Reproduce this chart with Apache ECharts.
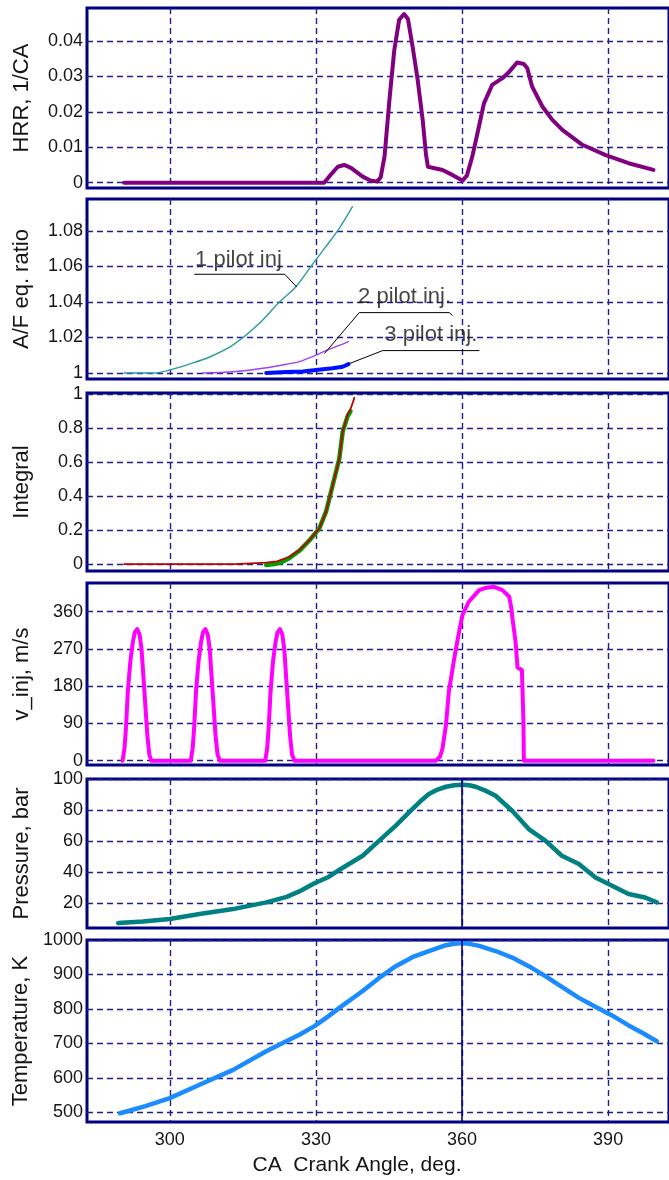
<!DOCTYPE html>
<html>
<head>
<meta charset="utf-8">
<script src="https://cdn.jsdelivr.net/npm/echarts@6/dist/echarts.min.js"></script>
<style>
html,body{margin:0;padding:0;background:#fff;}
#c{width:669px;height:1180px;}
</style>
</head>
<body>
<div id="c"></div>
<script>
// ---------- data ----------
const xTicks = [300, 330, 360, 390];
const xTitle = 'CA  Crank Angle, deg.';

const hrrTicks = [0, 0.01, 0.02, 0.03, 0.04];
const afTicks = [1, 1.02, 1.04, 1.06, 1.08];
const intTicks = [0, 0.2, 0.4, 0.6, 0.8, 1];
const vinjTicks = [0, 90, 180, 270, 360];
const presTicks = [20, 40, 60, 80, 100];
const tempTicks = [500, 600, 700, 800, 900, 1000];

const panelTitles = ['HRR, 1/CA', 'A/F eq. ratio', 'Integral', 'v_inj, m/s', 'Pressure, bar', 'Temperature, K'];

const hrr = [[290.6,0],[331.7,0],[333.2,0.0025],[334.5,0.0045],[335.8,0.005],[337.2,0.0042],[339.6,0.0017],[341.2,0.0006],[342.6,0.0003],[343.3,0.0015],[344.1,0.0075],[345.1,0.0234],[346.1,0.0375],[347.1,0.046],[348.1,0.0476],[348.9,0.0462],[349.9,0.038],[350.9,0.029],[351.9,0.018],[352.6,0.008],[353.0,0.0045],[356.0,0.0036],[358.0,0.0022],[360.1,0.0006],[361.0,0.002],[362.1,0.0073],[363.5,0.016],[364.5,0.0224],[366.2,0.0276],[368.3,0.0295],[369.5,0.031],[371.3,0.0339],[372.7,0.0335],[373.4,0.0323],[374.4,0.0271],[376.5,0.0215],[378.5,0.0178],[380.6,0.0149],[384.7,0.0107],[389.5,0.0078],[394.2,0.0055],[399.3,0.0036]];

const af1 = [[290.6,1.0],[296.9,1.0],[300.0,1.0017],[304.0,1.005],[308.2,1.009],[313.0,1.0158],[318.4,1.028],[322.5,1.040],[325.9,1.0486],[329.7,1.0627],[332.0,1.071],[334.8,1.0815],[337.5,1.0937]];
const af2 = [[306.8,1.0],[313.0,1.0007],[318.0,1.0022],[323.2,1.0045],[326.6,1.0064],[330.0,1.010],[332.0,1.0125],[334.8,1.0155],[336.7,1.0176]];
const af3 = [[319.8,1.0],[324.0,1.0005],[327.3,1.0008],[330.0,1.0017],[333.4,1.0026],[335.5,1.0035],[336.7,1.005]];

const afLabels = ['1 pilot inj', '2 pilot inj.', '3 pilot inj.'];
const afLabelPos = [[314.1,1.0637],[348.2,1.0430],[353.6,1.0214]];
const afLeader1 = [[305.1,1.0556],[323.6,1.0556],[326.0,1.0486]];
const afLeader2 = [[331.8,1.0111],[338.9,1.0340],[357.4,1.0340],[358.0,1.0325]];
const afLeader3 = [[336.7,1.0051],[343.7,1.0126],[363.5,1.0126]];

const intRed = [[290.6,0],[313.5,0],[313.7,0.005],[319.8,0.008],[322.0,0.016],[324.6,0.043],[326.6,0.083],[328.7,0.142],[330.7,0.21],[332.1,0.309],[333.4,0.46],[334.8,0.62],[335.5,0.78],[336.5,0.88],[337.2,0.92],[337.9,0.98]];
const intGreen = [[319.8,-0.006],[321.5,0.0],[323.0,0.012],[324.6,0.036],[326.6,0.078],[328.7,0.14],[330.7,0.21],[332.1,0.31],[333.4,0.46],[334.8,0.62],[335.5,0.78],[336.5,0.87],[337.1,0.90]];

const vinj = [[290.3,0],[290.7,30],[291.0,80],[291.4,170],[291.9,240],[292.4,285],[292.8,310],[293.3,318],[293.8,305],[294.2,270],[294.6,200],[295.0,130],[295.4,60],[295.8,15],[296.2,0],
  [304.3,0],[304.7,30],[305.0,80],[305.4,170],[305.9,240],[306.4,285],[306.8,310],[307.3,318],[307.8,305],[308.2,270],[308.6,200],[309.0,130],[309.4,60],[309.8,15],[310.3,0],
  [319.6,0],[320.0,30],[320.3,80],[320.7,170],[321.2,240],[321.7,285],[322.1,310],[322.6,318],[323.1,305],[323.5,270],[323.9,200],[324.3,130],[324.7,60],[325.1,15],[325.6,0],
  [354.6,0],[355.5,10],[356.0,30],[356.7,86],[357.3,167],[358.4,247],[359.4,312],[360.1,352],[361.4,384],[363.5,412],[365.0,418],[366.6,420],[368.3,412],[369.7,396],[370.1,370],[370.4,340],[371.0,287],[371.4,225],[372.3,219],[372.6,100],[372.7,0],[399.3,0]];

const pressure = [[289.4,7.1],[294.5,8.1],[300.0,9.7],[306.1,12.9],[313.0,16.1],[319.8,20.4],[324.0,24.0],[326.6,27.5],[329.7,32.8],[332.6,36.8],[334.5,40.8],[339.6,50.5],[343.0,60.2],[346.4,69.9],[349.8,80.6],[351.5,85.8],[353.2,90.3],[355.0,93.2],[356.7,95.0],[358.4,96.0],[360.1,96.3],[361.5,96.0],[362.8,95.0],[364.8,92.5],[366.9,89.2],[370.3,79.5],[373.7,67.7],[377.1,60.2],[380.5,50.5],[384.0,45.2],[387.4,36.5],[390.8,31.2],[394.2,25.8],[397.6,23.6],[400.0,20.4]];

const temperature = [[289.8,497],[295.0,518],[300.0,541],[306.1,580],[313.0,623],[319.8,677],[326.6,725],[329.7,750],[332.6,779],[334.8,803],[339.6,852],[343.0,890],[346.4,924],[349.8,950],[353.2,968],[356.7,985],[358.4,989],[360.1,991],[361.8,988],[363.5,983],[366.9,968],[370.3,949],[373.7,924],[377.1,895],[380.5,864],[384.0,832],[387.4,806],[390.8,781],[394.2,752],[397.1,730],[400.0,706]];

// ---------- chart ----------
const FONT = '"Liberation Sans", Arial, sans-serif';
const NAVY = '#000080';
const GRIDC = '#1e1e8e';
const TXT = '#151515';

const gridBoxes = [
  {top: 8, height: 180},
  {top: 199, height: 180},
  {top: 393, height: 178},
  {top: 583, height: 182},
  {top: 779, height: 149},
  {top: 940, height: 182}
];
const yRanges = [[-0.0015, 0.0493], [0.9966, 1.098], [-0.041, 1.008], [-10.4, 429.3], [3.9, 100], [471.7, 1000]];
const yTickSets = [hrrTicks, afTicks, intTicks, vinjTicks, presTicks, tempTicks];

const dashed = {show: true, lineStyle: {color: GRIDC, width: 1.4, type: [6, 4]}};

const grid = gridBoxes.map(g => ({
  left: 87, width: 583, top: g.top, height: g.height,
  show: true, borderColor: NAVY, borderWidth: 3, backgroundColor: '#fff'
}));

const xAxis = gridBoxes.map((g, i) => ({
  type: 'value', gridIndex: i, min: 283, max: 402.5,
  axisLine: {show: false}, axisTick: {show: false, customValues: xTicks},
  splitLine: dashed,
  axisLabel: {show: i === 5, customValues: xTicks, fontFamily: FONT, fontSize: 18, color: TXT, margin: 9,
    formatter: v => String(v)},
  name: i === 5 ? xTitle : '', nameLocation: 'middle', nameGap: 33,
  nameTextStyle: {fontFamily: FONT, fontSize: 21, color: TXT, padding: [0, 42, 0, 0]}
}));

const yAxis = gridBoxes.map((g, i) => ({
  type: 'value', gridIndex: i, min: yRanges[i][0], max: yRanges[i][1],
  axisLine: {show: false}, axisTick: {show: false, customValues: yTickSets[i]},
  splitLine: dashed,
  axisLabel: {customValues: yTickSets[i], fontFamily: FONT, fontSize: 18, color: TXT, margin: 4,
    formatter: v => String(v)},
  name: panelTitles[i], nameLocation: 'middle', nameGap: 54, nameRotate: 90,
  nameTextStyle: {fontFamily: FONT, fontSize: 22, color: TXT}
}));

function line(data, gi, color, width, extra) {
  return Object.assign({
    type: 'line', xAxisIndex: gi, yAxisIndex: gi, data: data, symbol: 'none',
    lineStyle: {color: color, width: width, join: 'round', cap: 'round'}, silent: true, animation: false
  }, extra || {});
}

const solid360 = {
  silent: true, symbol: 'none', label: {show: false},
  lineStyle: {color: NAVY, width: 1.6, type: 'solid'},
  data: [{xAxis: 360}]
};

const series = [
  line(hrr, 0, '#800080', 4),
  line(af1, 1, '#2a9d9d', 1.4, {smooth: 0.3}),
  line(af2, 1, '#a040f0', 1.4, {smooth: 0.3}),
  line(af3, 1, '#0010ff', 4),
  line(afLeader1, 1, '#000', 1),
  line(afLeader2, 1, '#000', 1),
  line(afLeader3, 1, '#000', 1),
  {
    type: 'scatter', xAxisIndex: 1, yAxisIndex: 1, symbolSize: 1, silent: true, animation: false,
    itemStyle: {color: 'rgba(0,0,0,0)'},
    data: afLabelPos.map((p, k) => ({value: p, name: afLabels[k]})),
    label: {show: true, position: 'inside', formatter: p => p.name, fontFamily: FONT, fontSize: 22, color: TXT}
  },
  line(intGreen, 2, '#00a000', 4.5),
  line(intRed, 2, '#c00000', 1.8),
  line(vinj, 3, '#ff00ff', 4),
  line(pressure, 4, '#008080', 4.5, {markLine: solid360}),
  line(temperature, 5, '#1a8cff', 4.5, {markLine: solid360})
];

const chart = echarts.init(document.getElementById('c'), null, {renderer: 'canvas'});
chart.setOption({
  animation: false,
  backgroundColor: '#fff',
  grid: grid, xAxis: xAxis, yAxis: yAxis, series: series
});
</script>
</body>
</html>
